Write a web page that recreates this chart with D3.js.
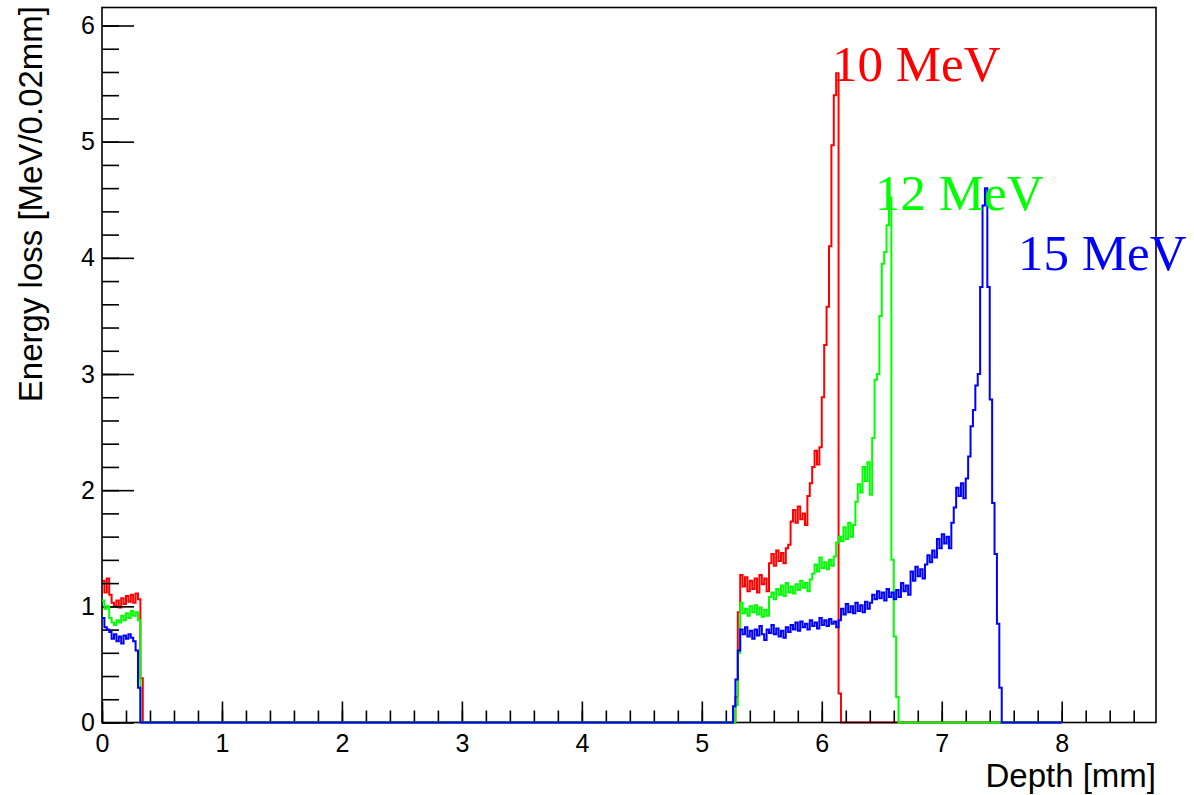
<!DOCTYPE html>
<html>
<head>
<meta charset="utf-8">
<script src="https://cdn.jsdelivr.net/npm/d3@7"></script>
<style>
  body { margin: 0; background: #fff; }
  svg { display: block; }
</style>
</head>
<body>
<div id="chart"></div>
<script>
// Histogram data, bin width 0.02 mm, histogram range 0 - 8 mm
var binWidth = 0.02;
var histMax = 8;
var peakStart = 5.26; // depth of the first bin of the *Peak arrays

var xTickLabels = ["0", "1", "2", "3", "4", "5", "6", "7", "8"];
var yTickLabels = ["0", "1", "2", "3", "4", "5", "6"];

var seriesNames = ["10 MeV", "12 MeV", "15 MeV"];

// bins from 0 mm (window layer)
var redEntrance = [1.22, 1.12, 1.24, 1.1, 1.03, 1.0, 1.05, 0.99, 1.07, 1.02, 1.09, 1.04, 1.1, 1.03, 1.11, 1.06, 0.38];
var greenEntrance = [1.05, 0.98, 1.0, 0.9, 0.86, 0.84, 0.88, 0.86, 0.92, 0.88, 0.94, 0.9, 0.96, 0.92, 0.95, 0.88, 0];
var blueEntrance = [0.9, 0.82, 0.8, 0.78, 0.72, 0.76, 0.7, 0.74, 0.68, 0.75, 0.72, 0.76, 0.73, 0.7, 0.62, 0.3, 0];

// bins from 5.26 mm (target layer)
var redPeak = [0, 0.22, 0.95, 1.27, 1.17, 1.25, 1.13, 1.22, 1.15, 1.24,
    1.12, 1.27, 1.19, 1.24, 1.13, 1.37, 1.45, 1.35, 1.48, 1.39,
    1.46, 1.37, 1.5, 1.53, 1.73, 1.83, 1.72, 1.86, 1.75, 1.8,
    1.7, 1.95, 2.06, 2.2, 2.34, 2.22, 2.37, 2.8, 3.25, 3.58,
    4.1, 4.97, 5.4, 5.59, 0.25];
var greenPeak = [0, 0.15, 0.6, 1.03, 0.94, 0.98, 0.92, 1.0, 0.95, 1.01,
    0.93, 0.99, 0.91, 0.97, 0.92, 1.08, 1.12, 1.06, 1.15, 1.1,
    1.18, 1.09, 1.2, 1.12, 1.17, 1.11, 1.19, 1.14, 1.22, 1.16,
    1.2, 1.13, 1.23, 1.28, 1.36, 1.3, 1.42, 1.33, 1.38, 1.32,
    1.4, 1.35, 1.43, 1.55, 1.6, 1.56, 1.68, 1.58, 1.72, 1.6,
    1.7, 1.9, 2.05, 1.98, 2.2, 2.08, 2.24, 1.96, 2.45, 2.95,
    3.0, 3.5, 3.95, 4.05, 4.28, 4.52, 1.4, 0.74, 0.22];
var bluePeak = [0.14, 0.37, 0.62, 0.8, 0.76, 0.82, 0.74, 0.79, 0.72, 0.8,
    0.75, 0.83, 0.76, 0.71, 0.8, 0.77, 0.84, 0.76, 0.81, 0.74,
    0.79, 0.73, 0.82, 0.78, 0.84, 0.8, 0.86, 0.79, 0.87, 0.82,
    0.85, 0.8, 0.88, 0.83, 0.86, 0.81, 0.9, 0.84, 0.88, 0.83,
    0.89, 0.85, 0.87, 0.82, 0.88, 0.98, 0.93, 1.02, 0.95, 1.0,
    0.94, 1.03, 0.96, 1.01, 0.95, 1.04, 0.98, 1.03, 1.1, 1.06,
    1.13, 1.07, 1.12, 1.05, 1.15, 1.08, 1.12, 1.06, 1.14, 1.08,
    1.2, 1.13, 1.18, 1.1, 1.3, 1.22, 1.34, 1.26, 1.32, 1.24,
    1.36, 1.44, 1.38, 1.48, 1.42, 1.58, 1.5, 1.62, 1.54, 1.6,
    1.5, 1.72, 1.85, 2.02, 1.95, 2.06, 1.93, 2.1, 2.29, 2.55,
    2.69, 2.9, 3.0, 3.75, 4.45, 4.6, 3.75, 2.78, 1.89, 1.45,
    0.85, 0.3];

var svgWidth = 1194;
var svgHeight = 795;

var margin = {
    top: 7.5,
    right: 38,
    bottom: 72.5,
    left: 102
};

var width = svgWidth - margin.left - margin.right;
var height = svgHeight - margin.top - margin.bottom;

var svg = d3.select("#chart")
    .append("svg")
    .attr("width", svgWidth)
    .attr("height", svgHeight);

var chartGroup = svg.append("g")
    .attr("transform", `translate(${margin.left}, ${margin.top})`);

// Step 1: build the full 400 bin histograms (empty bins are 0)
// ==============================
var nBins = Math.round(histMax / binWidth);
var peakBin = Math.round(peakStart / binWidth);

function buildHist(entrance, peak) {
    var bins = new Array(nBins).fill(0);
    entrance.forEach(function (d, i) { bins[i] = d; });
    peak.forEach(function (d, i) { bins[peakBin + i] = d; });
    var pts = bins.map(function (d, i) { return { x: i * binWidth, y: d }; });
    pts.push({ x: histMax, y: bins[nBins - 1] });
    return pts;
}

var hists = [
    { name: seriesNames[0], color: "#ff0000", points: buildHist(redEntrance, redPeak) },
    { name: seriesNames[1], color: "#00ff00", points: buildHist(greenEntrance, greenPeak) },
    { name: seriesNames[2], color: "#0000ff", points: buildHist(blueEntrance, bluePeak) }
];

// Step 2: scales
// ==============================
var xScale = d3.scaleLinear()
    .domain([0, 8.786])
    .range([0, width]);

var yScale = d3.scaleLinear()
    .domain([0, 6.155])
    .range([height, 0]);

var histLine = d3.line()
    .x(d => xScale(d.x))
    .y(d => yScale(d.y))
    .curve(d3.curveStepAfter);

// Step 3: energy labels (drawn below the curves)
// ==============================
var labelPos = [[832, 81], [875, 210], [1018, 270]];
hists.forEach(function (h, i) {
    svg.append("text")
        .attr("x", labelPos[i][0])
        .attr("y", labelPos[i][1])
        .attr("font-family", "'Liberation Serif', 'Times New Roman', serif")
        .attr("font-size", "51px")
        .attr("fill", h.color)
        .text(h.name);
});

function drawHist(h) {
    chartGroup.append("path")
        .datum(h.points)
        .attr("d", histLine)
        .attr("fill", "none")
        .attr("stroke", h.color)
        .attr("stroke-width", 2);
}

// red first, the frame covers its zero line
drawHist(hists[0]);

// Step 4: frame and axes
// ==============================
var axisFont = "'Liberation Sans', Arial, Helvetica, sans-serif";

function styleAxis(g) {
    g.select(".domain").remove();
    g.selectAll("line").attr("stroke", "#000").attr("stroke-width", 1.6);
    g.selectAll("text").attr("fill", "#000");
    g.attr("font-family", axisFont).attr("font-size", "25px");
}

var xMinor = xScale.ticks(44);
var yMinor = yScale.ticks(30);

chartGroup.append("g")
    .attr("transform", `translate(0, ${height})`)
    .call(d3.axisBottom(xScale).tickValues(xMinor).tickSize(-12).tickFormat(""))
    .call(styleAxis);

chartGroup.append("g")
    .attr("transform", `translate(0, ${height})`)
    .attr("class", "axisX")
    .call(d3.axisBottom(xScale)
        .tickValues(xTickLabels.map(Number))
        .tickSize(-21)
        .tickPadding(12)
        .tickFormat((d, i) => xTickLabels[i]))
    .call(styleAxis);

chartGroup.append("g")
    .call(d3.axisLeft(yScale).tickValues(yMinor).tickSize(-17).tickFormat(""))
    .call(styleAxis);

chartGroup.append("g")
    .attr("class", "axisY")
    .call(d3.axisLeft(yScale)
        .tickValues(yTickLabels.map(Number))
        .tickSize(-32)
        .tickPadding(7)
        .tickFormat((d, i) => yTickLabels[i]))
    .call(styleAxis);

chartGroup.append("rect")
    .attr("width", width)
    .attr("height", height)
    .attr("fill", "none")
    .attr("stroke", "#000")
    .attr("stroke-width", 1.6);

drawHist(hists[1]);
drawHist(hists[2]);

// Step 5: axis titles
// ==============================
svg.append("text")
    .attr("transform", "translate(42, 6) rotate(-90)")
    .attr("text-anchor", "end")
    .attr("font-family", axisFont)
    .attr("font-size", "33px")
    .attr("fill", "#000")
    .text("Energy loss [MeV/0.02mm]");

svg.append("text")
    .attr("x", margin.left + width)
    .attr("y", 787)
    .attr("text-anchor", "end")
    .attr("font-family", axisFont)
    .attr("font-size", "33px")
    .attr("fill", "#000")
    .text("Depth [mm]");
</script>
</body>
</html>
